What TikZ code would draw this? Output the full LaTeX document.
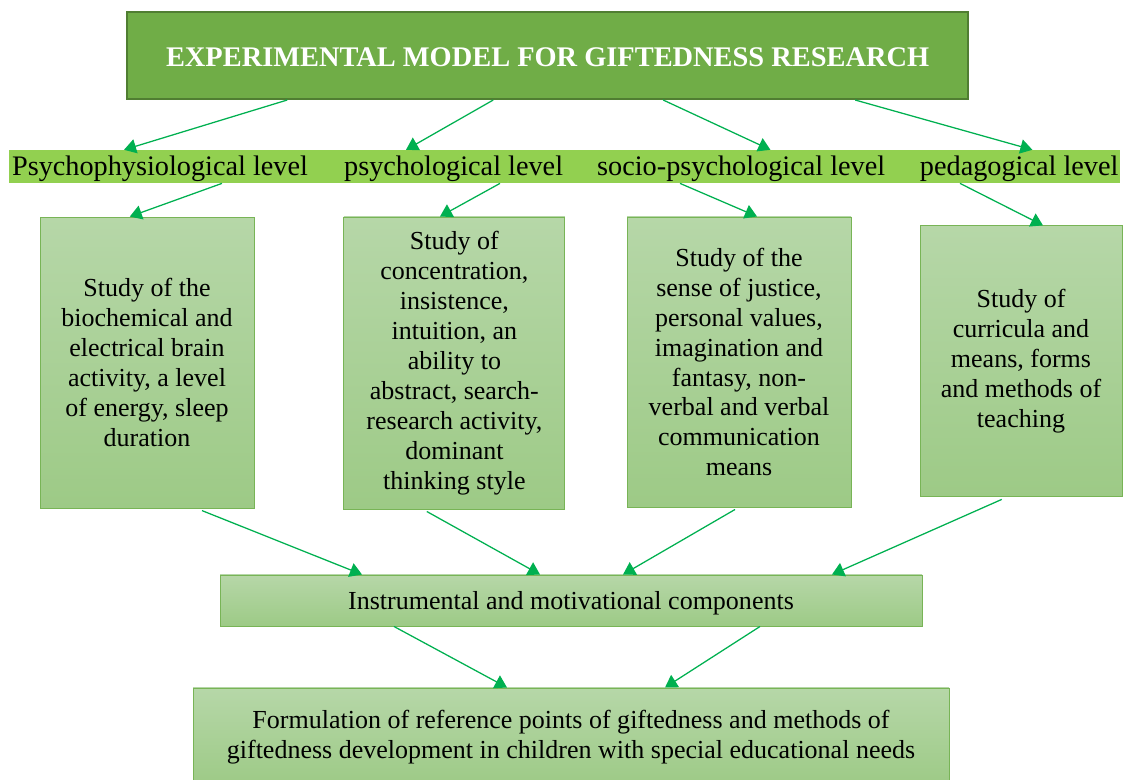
\documentclass[tikz,border=0pt]{standalone}
\usepackage{fontspec}
\setmainfont{Liberation Serif}
\usetikzlibrary{positioning,arrows.meta}
\definecolor{headgreen}{HTML}{70AD47}
\definecolor{headline}{HTML}{507E32}
\definecolor{bandgreen}{HTML}{92D050}
\definecolor{boxtop}{HTML}{B6D7A8}
\definecolor{boxbot}{HTML}{9DCA86}
\definecolor{boxline}{HTML}{78B456}
\definecolor{arrgreen}{HTML}{00B050}
\tikzstyle{head}=[draw=headline, line width=1.6pt, fill=headgreen, minimum width=21.03cm, minimum height=2.175cm, text=white, text height=0.55cm, font=\fontsize{20.2}{24}\selectfont\bfseries]
\tikzstyle{band}=[fill=bandgreen, minimum width=27.78cm, minimum height=0.825cm, inner sep=0pt]
\tikzstyle{lvl}=[minimum height=0.825cm, inner sep=0pt, text height=0.55cm, text depth=0.1cm, font=\fontsize{20.1}{24}\selectfont]
\tikzstyle{study}=[draw=boxline, line width=0.7pt, top color=boxtop, bottom color=boxbot, align=center, font=\fontsize{18.5}{21.3}\selectfont]
\tikzstyle{arr}=[-{Triangle[width=0.36cm,length=0.3cm]}, draw=arrgreen, line width=0.9pt]

\begin{document}
\begin{tikzpicture}
	\useasboundingbox (0,0) rectangle (28.075,19.475);
	\node[head] (EM) at (13.69,18.09) {EXPERIMENTAL MODEL FOR GIFTEDNESS RESEARCH};
	
	% levels
	\node[band] (LV) at (14.11,15.31) {};
	\node[lvl] (P1) at (4.0,15.31) {Psychophysiological level};
	\node[lvl] (P2) at (11.34,15.31) {psychological level};
	\node[lvl] (P3) at (18.53,15.31) {socio-psychological level};
	\node[lvl] (P4) at (25.48,15.31) {pedagogical level};
	
	% studies
	\node[study, minimum width=5.35cm, minimum height=7.275cm] (S1) at (3.675,10.41) {Study of the\\biochemical and\\electrical brain\\activity, a level\\of energy, sleep\\duration};
	\node[study, minimum width=5.525cm, minimum height=7.3cm] (S2) at (11.36,10.4) {Study of\\concentration,\\insistence,\\intuition, an\\ability to\\abstract, search-\\research activity,\\dominant\\thinking style};
	\node[study, minimum width=5.6cm, minimum height=7.25cm] (S3) at (18.475,10.425) {Study of the\\sense of justice,\\personal values,\\imagination and\\fantasy, non-\\verbal and verbal\\communication\\means};
	\node[study, minimum width=5.05cm, minimum height=6.775cm] (S4) at (25.525,10.44) {Study of\\curricula and\\means, forms\\and methods of\\teaching};
	
	\node[study, minimum width=17.55cm, minimum height=1.275cm, text height=0.6cm] (IC) at (14.275,4.4625) {Instrumental and motivational components};
	\node[study, minimum width=18.9cm, minimum height=2.45cm] (RF) at (14.275,1.05) {Formulation of reference points of giftedness and methods of\\giftedness development in children with special educational needs};
	
	\draw ([xshift=-6.51cm]EM.south) edge[arr] ([xshift=-0.9cm]P1.north);
	\draw ([xshift=-1.36cm]EM.south) edge[arr] ([xshift=-1.19cm]P2.north);
	\draw ([xshift=2.89cm]EM.south) edge[arr] ([xshift=0.73cm]P3.north);
	\draw ([xshift=7.69cm]EM.south) edge[arr] ([xshift=0.33cm]P4.north);
	
	\draw ([xshift=1.55cm]P1.south) edge[arr] ([xshift=-0.43cm]S1.north);
	\draw ([xshift=1.16cm]P2.south) edge[arr] ([xshift=-0.36cm]S2.north);
	\draw ([xshift=-1.53cm]P3.south) edge[arr] ([xshift=0.45cm]S3.north);
	\draw ([xshift=-1.48cm]P4.south) edge[arr] ([xshift=0.55cm]S4.north);
	
	\draw ([xshift=1.375cm,yshift=-0.05cm]S1.south) edge[arr] ([xshift=-5.225cm]IC.north);
	\draw ([xshift=-0.69cm,yshift=-0.05cm]S2.south) edge[arr] ([xshift=-0.775cm]IC.north);
	\draw ([xshift=-0.1cm,yshift=-0.05cm]S3.south) edge[arr] ([xshift=1.3cm]IC.north);
	\draw ([xshift=-0.48cm,yshift=-0.05cm]S4.south) edge[arr] ([xshift=6.525cm]IC.north);
	
	\draw ([xshift=-4.425cm]IC.south) edge[arr] ([xshift=-1.6cm]RF.north);
	\draw ([xshift=4.725cm]IC.south) edge[arr] ([xshift=2.35cm]RF.north);
	
\end{tikzpicture}
\end{document}
